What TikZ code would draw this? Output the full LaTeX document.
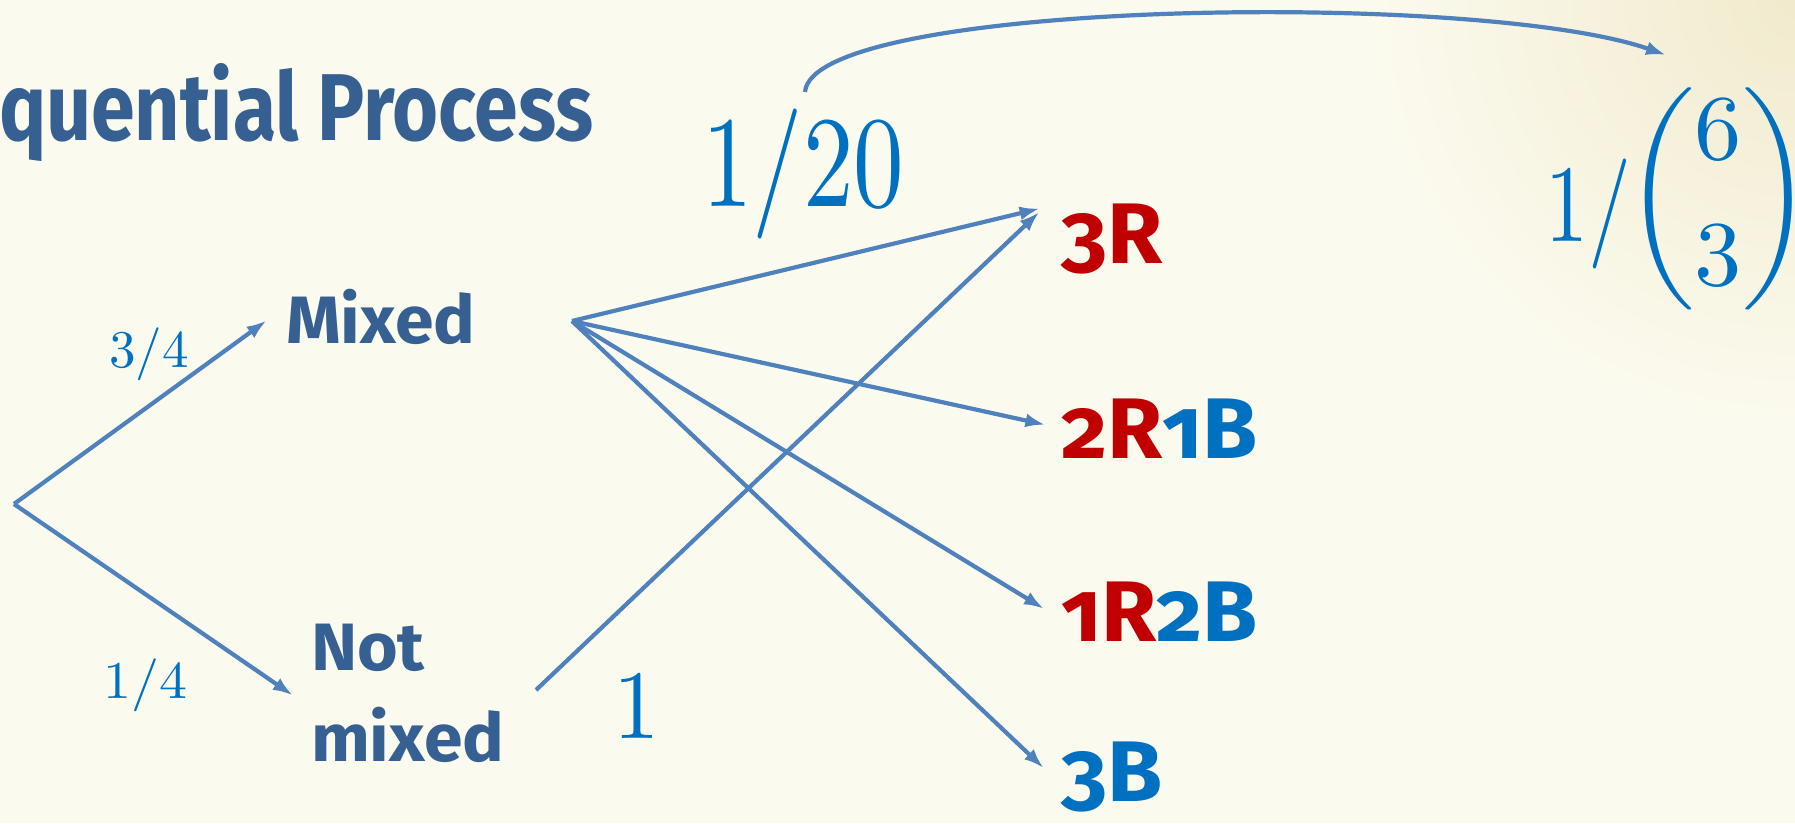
\documentclass[tikz,border=0pt]{standalone}
\usepackage{fontspec}
\usepackage{amsmath}
\usepackage{graphicx}
\usetikzlibrary{arrows.meta}
\usetikzlibrary{positioning}

\newfontfamily\slidefont[Numbers=OldStyle,FakeStretch=1.04]{Fira Sans}
\newfontfamily\headfont[FakeStretch=0.83]{Fira Sans}
\definecolor{slidebg}{HTML}{FBFAEE}
\definecolor{slideglow}{HTML}{F1EACD}
\definecolor{headblue}{HTML}{366092}
\definecolor{ballred}{HTML}{C00000}
\definecolor{ballblue}{HTML}{0070C0}
\definecolor{edgeblue}{HTML}{4F81BD}
% math at 10pt, blown up #1 times across and #2 times up
\newcommand{\mathat}[3]{\scalebox{#1}[#2]{#3}}

\begin{document}
\begin{tikzpicture}[x=1pt, y=-1pt, >={Latex[length=20pt,width=14pt]},
  edge/.style={draw=edgeblue, line width=4.2pt, ->},
  state/.style={inner sep=0pt, outer sep=0pt, anchor=base west, align=left,
    text=headblue, font=\slidefont\bfseries\fontsize{67}{91}\selectfont},
  outcome/.style={inner sep=0pt, outer sep=0pt, anchor=base west,
    font=\slidefont\bfseries\fontsize{86}{100}\selectfont},
  prob/.style={inner sep=0pt, anchor=base west, text=ballblue, font=\normalsize}]
\useasboundingbox (0,0) rectangle (1795,823);
\fill[slidebg] (0,0) rectangle (1795,823);
\shade[inner color=slideglow, outer color=slidebg] (1795,0) circle (420);

%heading
\node[state, font=\headfont\bfseries\fontsize{95}{110}\selectfont] (title) at (-1,140) {quential Process};

%first stage
\coordinate (root) at (14,504);
\node[state] (mixed) at (286,343) {Mixed};
\node[state] (notmixed) at (311,761) {Not\\mixed};
\coordinate (mxout) at (572,321);
\coordinate (nmout) at (536,690);

%outcomes
\node[outcome] (r3) at (1061,263) {\textcolor{ballred}{3R}};
\node[outcome] (r2b1) at (1061,458) {\textcolor{ballred}{2R}\textcolor{ballblue}{1B}};
\node[outcome] (r1b2) at (1061,641) {\textcolor{ballred}{1R}\textcolor{ballblue}{2B}};
\node[outcome] (b3) at (1061,801) {\textcolor{ballblue}{3B}};

%probabilities
\node[prob] (p34) at (109,367) {\mathat{5.3}{5.3}{$3/4$}};
\node[prob] (p14) at (103,698) {\mathat{5.6}{5.3}{$1/4$}};
\node[prob] (frac20) at (702,206) {\mathat{10.1}{13}{$1/20$}};
\node[prob] (one) at (613,738) {\mathat{9.3}{9.8}{$1$}};
\node[prob] (binom) at (1545,241) {\mathat{8.6}{11}{$1/$}\hspace{-6pt}\raisebox{19pt}{\mathat{9.45}{9.26}{$\dbinom{6}{3}$}}};

\coordinate (arcstart) at (805,92);
\coordinate (arcend) at (1666,55);

%arrows
\draw[edge, shorten >=24pt] (root) -- ([yshift=10pt]mixed.west);
\draw[edge, shorten >=22pt] (root) -- ([yshift=-15pt]notmixed.west);
\draw[edge, shorten >=22pt] (mxout) -- (r3.north west);
\draw[edge, shorten >=16pt] (mxout) -- (r2b1.west);
\draw[edge, shorten >=20pt] (mxout) -- ([yshift=-8pt]r1b2.west);
\draw[edge, shorten >=24pt] (mxout) -- ([yshift=-8pt]b3.west);
\draw[edge, shorten >=30pt] (nmout) -- ([yshift=12pt]r3.north west);
\draw[edge] (arcstart) .. controls (812,0) and (1480,-10) .. (arcend);
\end{tikzpicture}
\end{document}
